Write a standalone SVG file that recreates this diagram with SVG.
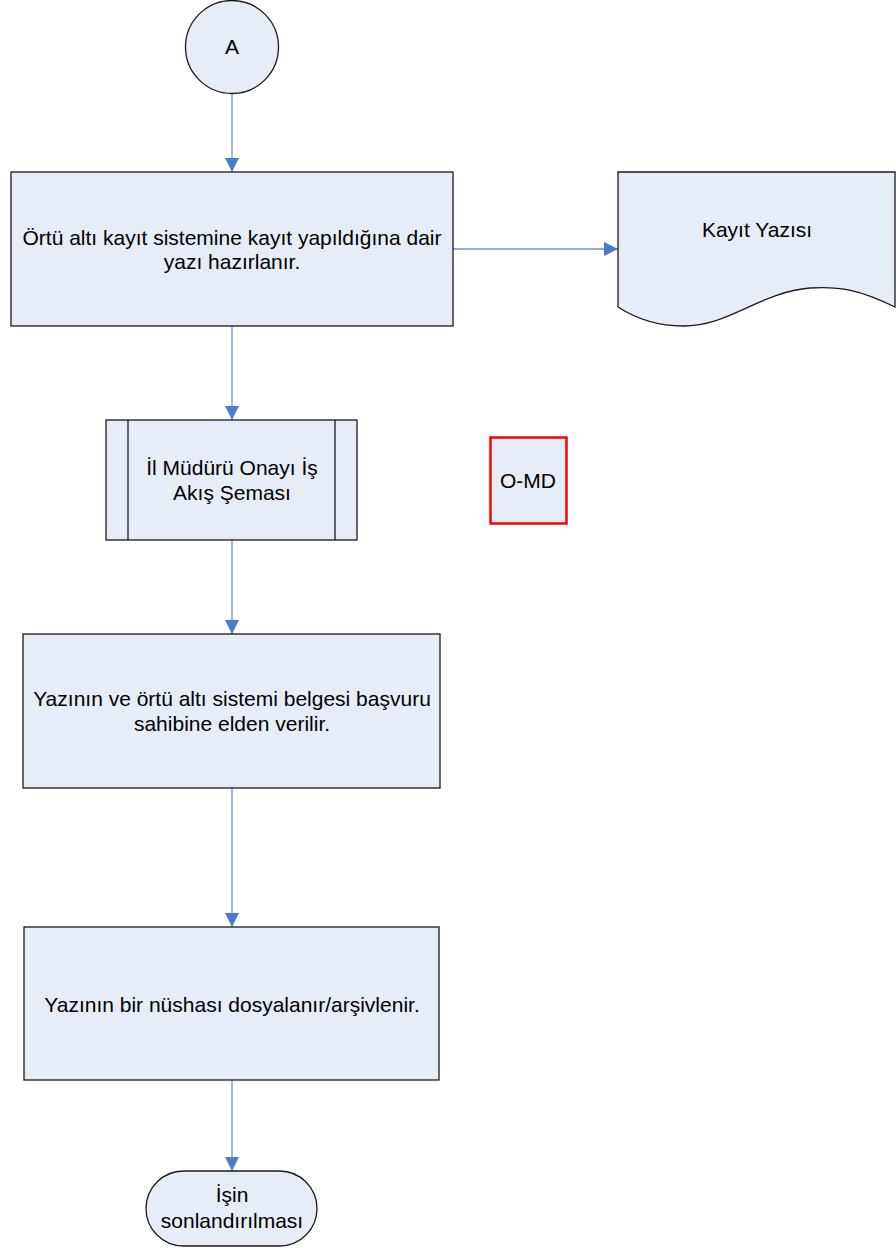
<svg xmlns="http://www.w3.org/2000/svg" width="896" height="1248" viewBox="0 0 896 1248">
<defs>
<marker id="arr" markerWidth="14" markerHeight="14" viewBox="0 0 14 14" refX="14" refY="7" orient="auto" markerUnits="userSpaceOnUse">
<path d="M0,0 L14,7 L0,14 Z" fill="#4A7BC8"/>
</marker>
<style>
.shape{fill:#E7EDF7;stroke:#1a1a1a;stroke-width:1.3}
.t{font-family:"Liberation Sans",Arial,sans-serif;font-size:21px;fill:#000;text-anchor:middle}
.c{stroke:#6B93D0;stroke-width:1.3;fill:none;marker-end:url(#arr)}
</style>
</defs>
<rect width="896" height="1248" fill="#fff"/>
<g id="connectors">
<line class="c" x1="232" y1="93" x2="232" y2="172"/>
<line class="c" x1="453" y1="249" x2="618" y2="249"/>
<line class="c" x1="232" y1="326" x2="232" y2="420"/>
<line class="c" x1="232" y1="540" x2="232" y2="634"/>
<line class="c" x1="232" y1="788" x2="232" y2="927"/>
<line class="c" x1="232" y1="1080" x2="232" y2="1171"/>
</g>
<g id="nodeA">
<circle class="shape" cx="232" cy="47" r="46.5"/>
<text class="t" x="232" y="54">A</text>
</g>
<g id="node1">
<rect class="shape" x="11" y="172" width="442" height="154"/>
<text class="t" x="232" y="245">Örtü altı kayıt sistemine kayıt yapıldığına dair</text>
<text class="t" x="232" y="269">yazı hazırlanır.</text>
</g>
<g id="doc">
<path class="shape" d="M618,172 L895,172 L895,307 C860,290 840,286 810,288 C760,292 730,326 683,326 C655,326 635,318 618,307 Z"/>
<text class="t" x="757" y="237">Kayıt Yazısı</text>
</g>
<g id="subprocess">
<rect class="shape" x="106" y="420" width="251" height="120"/>
<line x1="128" y1="420" x2="128" y2="540" stroke="#1a1a1a" stroke-width="1.3"/>
<line x1="335" y1="420" x2="335" y2="540" stroke="#1a1a1a" stroke-width="1.3"/>
<text class="t" x="232" y="475">İl Müdürü Onayı İş</text>
<text class="t" x="232" y="500">Akış Şeması</text>
</g>
<g id="omd">
<rect x="490.5" y="437.5" width="76" height="86" fill="#E7EDF7" stroke="#FF0000" stroke-width="2.5"/>
<text class="t" x="528" y="488">O-MD</text>
</g>
<g id="node3">
<rect class="shape" x="23" y="634" width="417" height="154"/>
<text class="t" x="232" y="706">Yazının ve örtü altı sistemi belgesi başvuru</text>
<text class="t" x="232" y="731">sahibine elden verilir.</text>
</g>
<g id="node4">
<rect class="shape" x="24" y="927" width="415" height="153"/>
<text class="t" x="232" y="1012">Yazının bir nüshası dosyalanır/arşivlenir.</text>
</g>
<g id="end">
<rect class="shape" x="146" y="1171" width="171" height="75" rx="37.5" ry="37.5"/>
<text class="t" x="232" y="1202">İşin</text>
<text class="t" x="232" y="1228">sonlandırılması</text>
</g>
</svg>
